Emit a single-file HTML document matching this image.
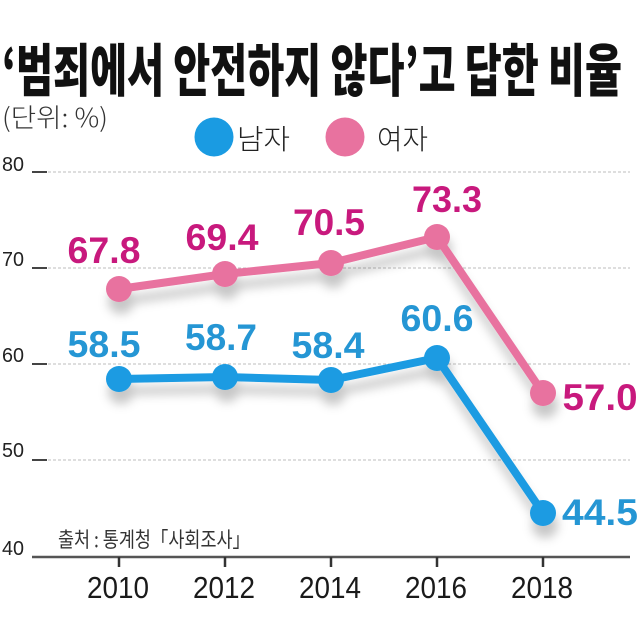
<!DOCTYPE html>
<html><head><meta charset="utf-8"><style>
html,body{margin:0;padding:0;background:#fff;}
svg{display:block;}
text{font-family:"Liberation Sans","Noto Sans CJK KR",sans-serif;}
</style></head><body>
<svg width="640" height="636" viewBox="0 0 640 636" xmlns="http://www.w3.org/2000/svg">
<defs>
<filter id="sh" x="-20%" y="-20%" width="140%" height="160%">
<feDropShadow dx="2" dy="12" stdDeviation="5" flood-color="#000" flood-opacity="0.22"/>
</filter>
</defs>
<rect width="640" height="636" fill="#fff"/>
<!-- title -->
<text x="2" y="91" font-size="57" font-weight="900" fill="#111" textLength="620" lengthAdjust="spacingAndGlyphs" style="font-family:'Noto Sans CJK KR','Liberation Sans',sans-serif">‘범죄에서 안전하지 않다’고 답한 비율</text>
<text x="2" y="127" font-size="26" fill="#333" textLength="106" lengthAdjust="spacingAndGlyphs" style="font-family:'Noto Sans CJK KR',sans-serif;font-weight:300">(단위: %)</text>
<!-- legend -->
<circle cx="214" cy="137" r="19.5" fill="#1a9be2"/>
<text x="237" y="149" font-size="28" fill="#222" textLength="53" lengthAdjust="spacingAndGlyphs" style="font-family:'Noto Sans CJK KR',sans-serif;font-weight:300">남자</text>
<circle cx="345" cy="137" r="19.5" fill="#e8729f"/>
<text x="377" y="149" font-size="28" fill="#222" textLength="51" lengthAdjust="spacingAndGlyphs" style="font-family:'Noto Sans CJK KR',sans-serif;font-weight:300">여자</text>
<!-- gridlines -->
<g stroke="#bdbdbd" stroke-width="1" stroke-dasharray="3,2">
<line x1="48" y1="172" x2="630" y2="172"/>
<line x1="48" y1="268" x2="630" y2="268"/>
<line x1="48" y1="364" x2="630" y2="364"/>
<line x1="48" y1="460" x2="630" y2="460"/>
</g>
<g stroke="#444" stroke-width="2">
<line x1="32" y1="172" x2="47" y2="172"/>
<line x1="32" y1="268" x2="47" y2="268"/>
<line x1="32" y1="364" x2="47" y2="364"/>
<line x1="32" y1="460" x2="47" y2="460"/>
</g>
<g font-size="20" fill="#222">
<text x="2" y="171" textLength="22" lengthAdjust="spacingAndGlyphs">80</text>
<text x="2" y="266" textLength="22" lengthAdjust="spacingAndGlyphs">70</text>
<text x="2" y="362" textLength="22" lengthAdjust="spacingAndGlyphs">60</text>
<text x="2" y="457" textLength="22" lengthAdjust="spacingAndGlyphs">50</text>
<text x="2" y="555" textLength="22" lengthAdjust="spacingAndGlyphs">40</text>
</g>
<!-- axis -->
<line x1="32" y1="557" x2="630" y2="557" stroke="#555" stroke-width="2.5"/>
<g stroke="#333" stroke-width="2.5">
<line x1="119" y1="557" x2="119" y2="567"/>
<line x1="225" y1="557" x2="225" y2="567"/>
<line x1="331" y1="557" x2="331" y2="567"/>
<line x1="437" y1="557" x2="437" y2="567"/>
<line x1="543" y1="557" x2="543" y2="567"/>
</g>
<g font-size="31" fill="#1a1a1a" text-anchor="middle">
<text x="118" y="598" textLength="62" lengthAdjust="spacingAndGlyphs">2010</text>
<text x="224" y="598" textLength="62" lengthAdjust="spacingAndGlyphs">2012</text>
<text x="330" y="598" textLength="62" lengthAdjust="spacingAndGlyphs">2014</text>
<text x="436" y="598" textLength="62" lengthAdjust="spacingAndGlyphs">2016</text>
<text x="542" y="598" textLength="62" lengthAdjust="spacingAndGlyphs">2018</text>
</g>
<text x="58" y="547" font-size="21" fill="#333" textLength="192" lengthAdjust="spacingAndGlyphs" style="font-family:'Noto Sans CJK KR',sans-serif;font-weight:400">출처 : 통계청「사회조사」</text>
<!-- women series -->
<g filter="url(#sh)">
<polyline points="119,289 225,274 331,263 437,237 543,393" fill="none" stroke="#e8729f" stroke-width="8" stroke-linejoin="round"/>
<g fill="#e8729f">
<circle cx="119" cy="289" r="13"/>
<circle cx="225" cy="274" r="13"/>
<circle cx="331" cy="263" r="13"/>
<circle cx="437" cy="237" r="13"/>
<circle cx="543" cy="393" r="13"/>
</g>
</g>
<!-- men series -->
<g filter="url(#sh)">
<polyline points="119,379 225,377 331,380 437,358 543,513" fill="none" stroke="#1a9be2" stroke-width="8" stroke-linejoin="round"/>
<g fill="#1a9be2">
<circle cx="119" cy="379" r="13"/>
<circle cx="225" cy="377" r="13"/>
<circle cx="331" cy="380" r="13"/>
<circle cx="437" cy="358" r="13"/>
<circle cx="543" cy="513" r="13"/>
</g>
</g>
<!-- labels -->
<g font-size="37" font-weight="bold" fill="#c8197d" text-anchor="middle">
<text x="104" y="263" textLength="73" lengthAdjust="spacingAndGlyphs">67.8</text>
<text x="222" y="250" textLength="73" lengthAdjust="spacingAndGlyphs">69.4</text>
<text x="329" y="235" textLength="72" lengthAdjust="spacingAndGlyphs">70.5</text>
<text x="447" y="212" textLength="70" lengthAdjust="spacingAndGlyphs">73.3</text>
<text x="600" y="410" textLength="75" lengthAdjust="spacingAndGlyphs">57.0</text>
</g>
<g font-size="37" font-weight="bold" fill="#2596d4" text-anchor="middle">
<text x="104" y="357" textLength="73" lengthAdjust="spacingAndGlyphs">58.5</text>
<text x="221" y="350" textLength="72" lengthAdjust="spacingAndGlyphs">58.7</text>
<text x="328" y="358" textLength="73" lengthAdjust="spacingAndGlyphs">58.4</text>
<text x="437" y="331" textLength="73" lengthAdjust="spacingAndGlyphs">60.6</text>
<text x="600" y="525" textLength="76" lengthAdjust="spacingAndGlyphs">44.5</text>
</g>
</svg>
</body></html>
